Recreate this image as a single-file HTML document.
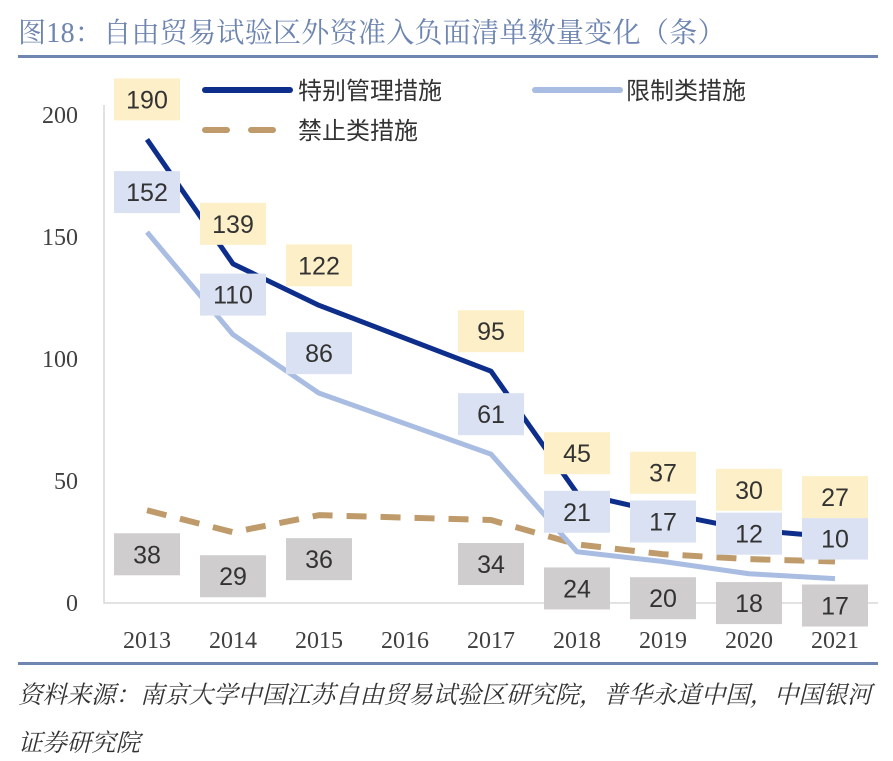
<!DOCTYPE html>
<html><head><meta charset="utf-8">
<style>
body{margin:0;background:#fff;width:893px;height:761px;overflow:hidden;font-family:"Liberation Serif","Noto Serif CJK SC",serif;}
.title{position:absolute;left:18px;top:11px;font-size:28px;color:#6d85b0;font-family:"Liberation Serif","Noto Serif CJK SC",serif;letter-spacing:0.3px}
.src{position:absolute;left:18px;font-size:24.4px;font-style:italic;color:#333;font-family:"Liberation Serif","Noto Serif CJK SC",serif}
</style></head><body>
<div class="title">图18：自由贸易试验区外资准入负面清单数量变化（条）</div>
<div style="position:absolute;left:18px;top:55px;width:860px;height:3px;background:#6f87b0"></div>
<svg id="chart" width="893" height="761" style="position:absolute;left:0;top:0"></svg>
<div style="position:absolute;left:18px;top:662px;width:860px;height:3px;background:#6f87b0"></div>
<div class="src" style="top:675px">资料来源：南京大学中国江苏自由贸易试验区研究院，普华永道中国，中国银河</div>
<div class="src" style="top:723px">证券研究院</div>
<script>
const years=["2013","2014","2015","2016","2017","2018","2019","2020","2021"];
const special=[190,139,122,null,95,45,37,30,27];
const restricted=[152,110,86,null,61,21,17,12,10];
const prohibited=[38,29,36,null,34,24,20,18,17];
const yTicks=[0,50,100,150,200];
const NS="http://www.w3.org/2000/svg";
const svg=document.getElementById('chart');
const X=i=>147+i*86, Y=v=>603-v*2.44;
function mk(t,a,p){const e=document.createElementNS(NS,t);for(const k in a)e.setAttribute(k,a[k]);(p||svg).appendChild(e);return e;}
let ax=mk('path',{d:`M104,${Y(200)-10} V603 H878`,fill:'none',stroke:'#d9d9d9','stroke-width':1.5});


yTicks.forEach(v=>{const t=mk('text',{x:78,y:Y(v)+8,'text-anchor':'end','font-size':24,fill:'#404040'});t.textContent=v;

});
years.forEach((y,i)=>{const t=mk('text',{x:X(i),y:648,'text-anchor':'middle','font-size':24,fill:'#404040'});t.textContent=y;

});
const series=[
 {d:prohibited,c:'#bf9b6b',w:6,dash:'20,14',box:'#cfcdcd',off:44,name:'prohibited'},
 {d:restricted,c:'#a9bce2',w:5,dash:'',box:'#d9e1f2',off:-40,name:'restricted'},
 {d:special,c:'#0d2e8a',w:5,dash:'',box:'#fdf0c8',off:-40,name:'special'}];
series.forEach(s=>{
 const pts=s.d.map((v,i)=>v==null?null:[X(i),Y(v)]).filter(p=>p);
 const l=mk('polyline',{points:pts.map(p=>p.join(',')).join(' '),fill:'none',stroke:s.c,'stroke-width':s.w,'stroke-dasharray':s.dash,'stroke-linejoin':'round'});
 
 
});
series.forEach(s=>{
 s.d.forEach((v,i)=>{if(v==null)return;
  const cx=X(i),cy=Y(v)+s.off;
  const g=mk('g',{});
  
  
  mk('rect',{x:cx-33,y:cy-21,width:66,height:42,fill:s.box},g);
  const t=mk('text',{x:cx,y:cy+9,'text-anchor':'middle','font-size':25,fill:'#333','font-family':'Liberation Sans, sans-serif'},g);t.textContent=v;
 });
});
const leg=[[205,90,'#0d2e8a','', '特别管理措施',298],[535,90,'#a9bce2','','限制类措施',626],[205,130,'#bf9b6b','22,24','禁止类措施',298]];
leg.forEach(L=>{const g=mk('g',{});
 
 
 mk('line',{x1:L[0],y1:L[1],x2:L[0]+85,y2:L[1],stroke:L[2],'stroke-width':6,'stroke-linecap':'round','stroke-dasharray':L[3]},g);
 const t=mk('text',{x:L[5],y:L[1]+9,'font-size':24,fill:'#333','font-family':'Liberation Sans, Noto Sans CJK SC, sans-serif'},g);t.textContent=L[4];});
</script>
</body></html>
